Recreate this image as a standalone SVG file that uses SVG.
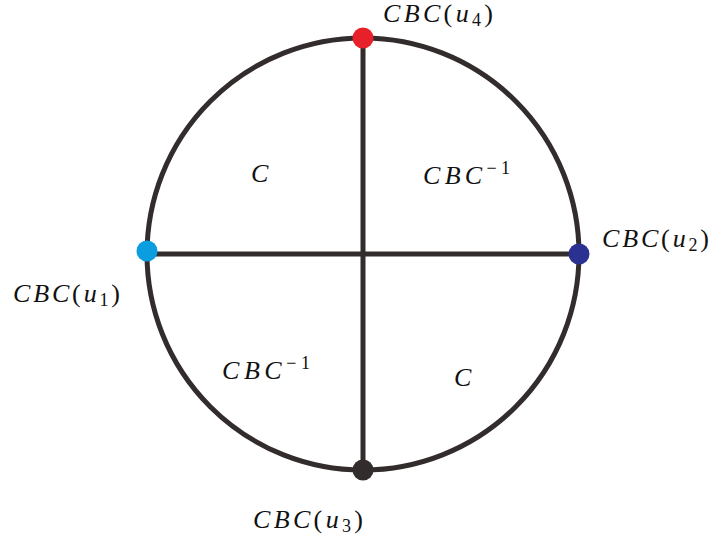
<svg xmlns="http://www.w3.org/2000/svg" width="712" height="537" viewBox="0 0 712 537">
<style>
.ln{stroke:#332c2c;stroke-width:5;fill:none}
text{font-family:"Liberation Serif","DejaVu Serif",serif;font-size:26px;fill:#111111}
.i{font-style:italic}
.s{font-size:18px}
</style>
<rect width="712" height="537" fill="#ffffff"/>
<g id="connectors">
<circle class="ln" cx="363" cy="254" r="216"/>
<line class="ln" x1="363" y1="38" x2="363" y2="470"/>
<line class="ln" x1="147" y1="254" x2="579" y2="254"/>
</g>
<g id="u4"><circle cx="363" cy="38" r="10.5" fill="#e8202a"/>
<text x="383" y="22" textLength="110" lengthAdjust="spacing"><tspan class="i">CBC</tspan>(<tspan class="i">u</tspan><tspan class="s" dy="4">4</tspan><tspan dy="-4">)</tspan></text></g>
<g id="u1"><circle cx="147" cy="251" r="10.5" fill="#0a9de0"/>
<text x="13" y="302" textLength="107" lengthAdjust="spacing"><tspan class="i">CBC</tspan>(<tspan class="i">u</tspan><tspan class="s" dy="4">1</tspan><tspan dy="-4">)</tspan></text></g>
<g id="u2"><circle cx="579" cy="254" r="10.5" fill="#2b3190"/>
<text x="602" y="247" textLength="107" lengthAdjust="spacing"><tspan class="i">CBC</tspan>(<tspan class="i">u</tspan><tspan class="s" dy="4">2</tspan><tspan dy="-4">)</tspan></text></g>
<g id="u3"><circle cx="363" cy="470" r="10.5" fill="#332c2c"/>
<text x="253" y="528" textLength="110" lengthAdjust="spacing"><tspan class="i">CBC</tspan>(<tspan class="i">u</tspan><tspan class="s" dy="4">3</tspan><tspan dy="-4">)</tspan></text></g>
<g id="regions">
<text class="i" x="251" y="182">C</text>
<text x="423" y="184" textLength="87" lengthAdjust="spacing"><tspan class="i">CBC</tspan><tspan class="s" dy="-10">−1</tspan></text>
<text x="222" y="379" textLength="88" lengthAdjust="spacing"><tspan class="i">CBC</tspan><tspan class="s" dy="-10">−1</tspan></text>
<text class="i" x="454" y="386">C</text>
</g>
</svg>
